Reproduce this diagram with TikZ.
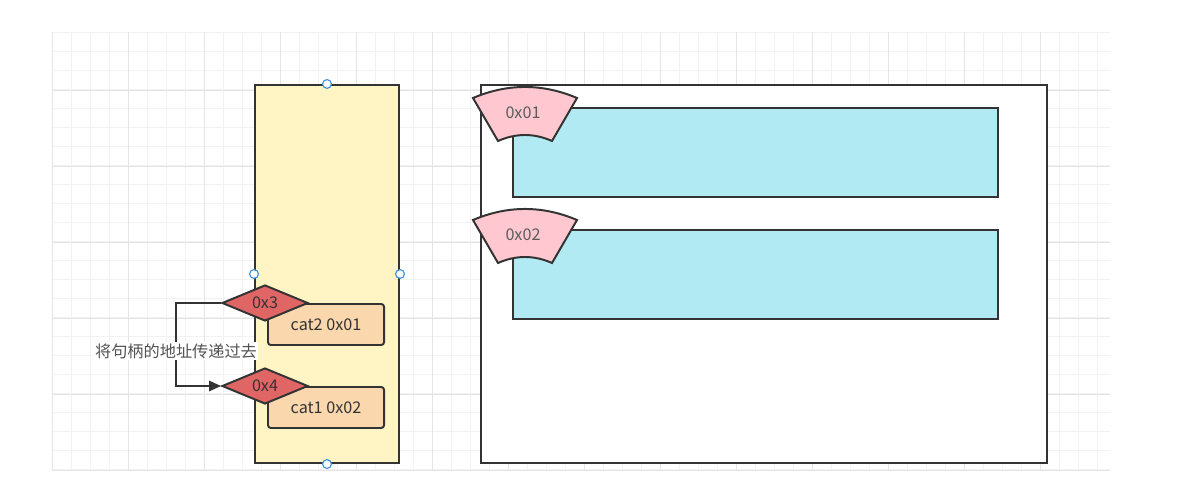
\documentclass[tikz,border=0pt]{standalone}
\usepackage{fontspec}
\setmainfont{Noto Sans CJK SC}
\usetikzlibrary{arrows.meta,positioning,shapes.geometric}

\definecolor{edge}{HTML}{333333}
\definecolor{stackfill}{HTML}{FFF5C4}
\definecolor{objfill}{HTML}{B1EAF2}
\definecolor{tagfill}{HTML}{FFC8D0}
\definecolor{ptrfill}{HTML}{E06666}
\definecolor{varfill}{HTML}{FAD7AC}
\definecolor{handle}{HTML}{3D8FE0}
\definecolor{gridminor}{HTML}{F2F2F2}
\definecolor{gridmajor}{HTML}{E4E4E4}

\begin{document}
\begin{tikzpicture}[
  x=0.025cm, y=-0.025cm,
  font=\fontsize{11.5}{13}\selectfont,
  line width=1.4pt,
  region/.style={draw=edge, minimum width=#1, minimum height=9.45cm, inner sep=0pt},
  objbox/.style={draw=edge, fill=objfill, minimum width=12.125cm, minimum height=2.225cm, inner sep=0pt},
  ptrbox/.style={draw=edge, fill=ptrfill, diamond, aspect=2.4, inner sep=0pt, minimum width=2.15cm, minimum height=0.9cm, text=edge},
  varbox/.style={draw=edge, fill=varfill, rounded corners=2pt, minimum width=2.9cm, minimum height=1.025cm, inner sep=0pt, text=edge},
  tagbox/.style={draw=edge, fill=tagfill},
  link/.style={draw=edge, -{Triangle[length=0.3cm,width=0.26cm]}},
  note/.style={fill=white, inner sep=1pt, text=edge!85},
  handledot/.style={circle, draw=handle, fill=white, line width=0.8pt, minimum size=0.22cm, inner sep=0pt}
]
\useasboundingbox (0,0) rectangle (1177,478);

% background grid
\foreach \gx in {52,71,...,1110} \draw[gridminor, line width=0.6pt] (\gx,32) -- (\gx,470);
\foreach \gy in {32,51,...,470} \draw[gridminor, line width=0.6pt] (52,\gy) -- (1110,\gy);
\foreach \gx in {52,128,...,1110} \draw[gridmajor, line width=0.6pt] (\gx,32) -- (\gx,470);
\foreach \gy in {90,166,...,470} \draw[gridmajor, line width=0.6pt] (52,\gy) -- (1110,\gy);

% stack and heap
\node[region=3.6cm, fill=stackfill] (stack) at (327,274) {};
\node[region=14.15cm, fill=white] (heap) at (764,274) {};

% objects on the heap
\node[objbox] (obj1) at (755.5,152.5) {};
\node[objbox] (obj2) at (755.5,274.5) {};

% address tags
\foreach \ty/\addr in {0/0x01,122/0x02} {
  \path[tagbox] (473,98+\ty) .. controls (507.7,83.3+\ty) and (542.3,83.3+\ty) .. (577,98+\ty)
    -- (552,141+\ty) .. controls (534,133+\ty) and (516,133+\ty) .. (498,141+\ty) -- cycle;
  \node[text=edge!80] (tag\addr) at (523,113+\ty) {\addr};
}

% variables on the stack
\node[varbox] (cat2) at (326,324.5) {\raisebox{-0.06cm}{cat2 0x01}};
\node[varbox] (cat1) at (326,407.5) {\raisebox{-0.06cm}{cat1 0x02}};
\node[ptrbox] (ptr3) at (265,303) {0x3};
\node[ptrbox] (ptr4) at (265,386) {0x4};

% passing the handle address
\coordinate (bend) at (176,303);
\draw[link] (ptr3.west) -- (bend) |- node[note, pos=0.29] {将句柄的地址传递过去} (ptr4.west);

% selection handles
\foreach \a in {north,west,east,south} \node[handledot] at (stack.\a) {};
\end{tikzpicture}
\end{document}
